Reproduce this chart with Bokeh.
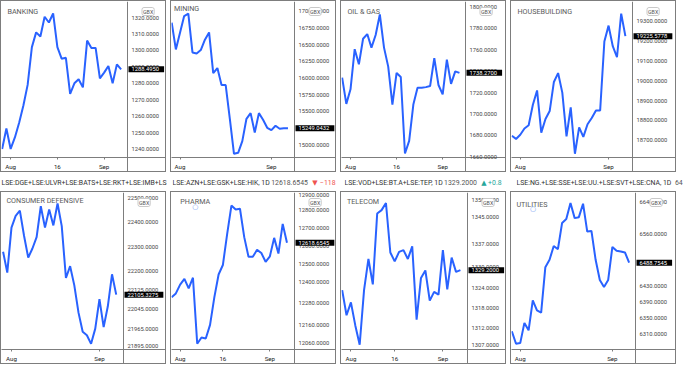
from bokeh.plotting import figure
from bokeh.layouts import column, row
from bokeh.models import Label, Span, FixedTicker, PrintfTickFormatter
from bokeh.embed import file_html
from bokeh.resources import INLINE

# ---------------- data ----------------
banking = [1240.0, 1252.5, 1240.0, 1247.0, 1256.0, 1266.5, 1279.0, 1302.0, 1311.0, 1308.5,
           1320.5, 1317.0, 1322.5, 1302.0, 1295.0, 1295.5, 1273.5, 1280.0, 1282.5, 1277.5,
           1306.0, 1301.5, 1301.5, 1283.0, 1286.5, 1290.5, 1280.0, 1291.5, 1288.4950]
mining = [16830, 16430, 16680, 16930, 16965, 16385, 16370, 16420, 16575, 16685,
          16075, 16150, 15895, 15895, 15390, 14865, 14880, 15055, 15390, 15475,
          15185, 15475, 15375, 15255, 15220, 15285, 15240, 15250, 15249.0432]
oil_gas = [1733.8, 1709.4, 1723.0, 1760.3, 1746.2, 1770.0, 1774.4, 1761.8, 1773.5, 1792.6,
           1761.8, 1744.1, 1708.8, 1738.2, 1734.4, 1663.2, 1675.0, 1708.8, 1724.4, 1724.4,
           1725.0, 1726.0, 1752.0, 1727.0, 1718.2, 1750.6, 1728.0, 1739.7, 1738.2700]
housebuilding = [18722, 18706, 18727, 18759, 18775, 18879, 18951, 18738, 18807, 18847,
                 18994, 19039, 18940, 18719, 18866, 18631, 18764, 18716, 18780, 18812,
                 18850, 18850, 19199, 19279, 19175, 19119, 19340, 19225.5778]
consumer_defensive = [22280, 22195, 22378, 22426, 22447, 22345, 22256, 22293, 22339, 22465,
                      22378, 22452, 22387, 22476, 22384, 22173, 22221, 22143, 22032, 21954,
                      21940, 21905, 21967, 22087, 21973, 22058, 22188, 22105.3275]
pharma = [12313, 12335, 12384, 12416, 12363, 12423, 12053, 12088, 12083, 12159,
          12313, 12441, 12494, 12667, 12827, 12805, 12809, 12650, 12540, 12540,
          12579, 12561, 12512, 12543, 12646, 12558, 12724, 12618.6545]
telecom = [1323.3, 1315.9, 1319.7, 1312.9, 1307.2, 1323.3, 1332.5, 1325.0, 1345.9, 1346.9,
           1349.0, 1334.4, 1331.8, 1334.6, 1335.1, 1332.5, 1336.2, 1314.6, 1326.9, 1329.1,
           1320.2, 1322.8, 1322.0, 1335.1, 1323.5, 1332.9, 1328.7, 1329.2000]
utilities = [6317.6, 6286.4, 6288.0, 6338.4, 6320.0, 6394.4, 6369.6, 6364.0, 6477.6, 6496.0,
             6530.4, 6522.4, 6588.0, 6597.6, 6637.6, 6600.0, 6602.4, 6636.0, 6566.4, 6568.0,
             6496.0, 6445.6, 6428.0, 6445.6, 6528.0, 6518.4, 6516.8, 6514.4, 6488.7545]

banking_yticks = [1240, 1250, 1260, 1270, 1280, 1290, 1300, 1310, 1320]
mining_yticks = [15000, 15250, 15500, 15750, 16000, 16250, 16500, 16750, 17000]
oil_gas_yticks = [1660, 1680, 1700, 1720, 1740, 1760, 1780, 1800]
housebuilding_yticks = [18700, 18800, 18900, 19000, 19100, 19200, 19300]
consumer_defensive_yticks = [21895, 21965, 22045, 22125, 22200, 22300, 22400, 22500]
pharma_yticks = [12060, 12160, 12280, 12400, 12500, 12600, 12700, 12800, 12900]
telecom_yticks = [1307, 1312, 1318, 1324, 1330, 1337, 1345, 1350]
utilities_yticks = [6310, 6350, 6390, 6430, 6490, 6560, 6640]

banking_xticks, banking_xlabels = [2, 13, 24], ["Aug", "16", "Sep"]
mining_xticks, mining_xlabels = [2, 24], ["Aug", "Sep"]
oil_gas_xticks, oil_gas_xlabels = [2, 13, 24], ["Aug", "16", "Sep"]
housebuilding_xticks, housebuilding_xlabels = [2, 23], ["Aug", "Sep"]
consumer_defensive_xticks, consumer_defensive_xlabels = [2, 23], ["Aug", "Sep"]
pharma_xticks, pharma_xlabels = [2, 12, 23], ["Aug", "16", "Sep"]
telecom_xticks, telecom_xlabels = [2, 12, 23], ["Aug", "16", "Sep"]
utilities_xticks, utilities_xlabels = [2, 24], ["Aug", "Sep"]

currency = "GBX"
hdr_consumer = "LSE:DGE+LSE:ULVR+LSE:BATS+LSE:RKT+LSE:IMB+LS"
hdr_pharma = "LSE:AZN+LSE:GSK+LSE:HIK, 1D"
pharma_change = "\u2212118"
hdr_telecom = "LSE:VOD+LSE:BT.A+LSE:TEP, 1D"
telecom_change = "+0.8"
hdr_utilities = "LSE:NG.+LSE:SSE+LSE:UU.+LSE:SVT+LSE:CNA, 1D"
utilities_fragment = "64"

# ---------------- styles / layout ----------------
BORDER = "#7d7d7d"
LINE = "#2962ff"
FONT = "Roboto"
RED = "#ef5350"
GREEN = "#26a69a"
PW = 166          # canvas width of a panel (a 1px css border is added around it)
AH = 16           # time-axis height
H_TOP, H_HDR, H_BOT = 172, 19, 173


def panel(name, values, yticks, xticks, xlabels, xr, yr, aw, height, tdx, tdy, circle=None):
    fw = PW - aw                   # width of the plotting area
    fh = height - AH
    x_end = xr[0] + (xr[1] - xr[0]) * PW / fw   # frame also covers the price scale
    p = figure(width=PW, height=height, x_range=(xr[0], x_end), y_range=yr,
               y_axis_location="right", toolbar_location=None, output_backend="svg",
               title=None, min_border_left=0, min_border_top=0, min_border_right=0,
               min_border_bottom=AH, styles={"border": f"1px solid {BORDER}"})
    p.outline_line_color = None
    p.grid.visible = False
    p.border_fill_color = "white"
    p.background_fill_color = "white"
    p.line(list(range(len(values))), values, line_color=LINE, line_width=2)

    xa = p.xaxis[0]
    xa.ticker = FixedTicker(ticks=xticks, minor_ticks=[xr[1]])
    xa.major_label_overrides = {t: s for t, s in zip(xticks, xlabels)}
    xa.axis_line_color = BORDER
    xa.major_tick_line_color = BORDER
    xa.major_tick_out = 2
    xa.major_tick_in = 0
    xa.minor_tick_line_color = BORDER
    xa.minor_tick_out = AH
    xa.minor_tick_in = 0
    xa.major_label_text_font = FONT
    xa.major_label_text_font_size = "6.2px"
    xa.major_label_text_color = "#222222"
    xa.major_label_standoff = -11

    ya = p.yaxis[0]
    ya.ticker = FixedTicker(ticks=yticks)
    ya.formatter = PrintfTickFormatter(format="%.4f")
    ya.axis_line_color = None
    ya.major_tick_line_color = None
    ya.major_tick_out = 0
    ya.major_tick_in = 0
    ya.minor_tick_line_color = None
    ya.major_label_text_font = FONT
    ya.major_label_text_font_size = "5.8px"
    ya.major_label_text_color = "#444444"
    ya.major_label_standoff = -(aw - 4)

    # price-scale separator
    p.add_layout(Span(location=xr[1], dimension="height", line_color=BORDER, line_width=1))

    # last value tag
    last = values[-1]
    p.add_layout(Label(x=fw + 1, y=last, x_units="screen", y_units="data",
                       text=f"{last:.4f}", text_font=FONT, text_font_size="5.8px",
                       text_color="white", text_baseline="middle", text_align="left",
                       background_fill_color="black",
                       padding=dict(left=3, right=5, top=1, bottom=1)))
    # currency badge
    p.add_layout(Label(x=fw + 14.5, y=fh - 6, x_units="screen", y_units="screen",
                       text=currency, text_font=FONT, text_font_size="5.3px",
                       text_color="#555555", text_baseline="top", text_align="left",
                       background_fill_color="white", border_line_color="#c9c9c9",
                       border_radius=2, padding=1))
    # title
    p.add_layout(Label(x=tdx, y=fh - tdy, x_units="screen", y_units="screen",
                       text=name, text_font=FONT, text_font_size="7.2px",
                       text_color="#5a5a5a", text_baseline="middle", text_align="left"))
    if circle is not None:
        p.add_layout(Label(x=circle[0], y=fh - circle[1], x_units="screen", y_units="screen",
                           text="\u25cb", text_font="DejaVu Sans", text_font_size="7px",
                           text_color="#6f9cf2", text_baseline="middle", text_align="center"))
    return p


def header(parts):
    h = figure(width=PW + 2, height=H_HDR, x_range=(0, 1), y_range=(0, 1),
               toolbar_location=None, output_backend="svg", title=None,
               x_axis_type=None, y_axis_type=None, min_border=0)
    h.outline_line_color = None
    h.border_fill_color = "white"
    h.background_fill_color = "white"
    for text, dx, color, font in parts:
        h.add_layout(Label(x=dx, y=8.7, x_units="screen", y_units="screen", text=text,
                           text_font=font, text_font_size="6.9px", text_color=color,
                           text_baseline="middle", text_align="left"))
    return h


top = [
    panel("BANKING", banking, banking_yticks, banking_xticks, banking_xlabels,
          (-0.15, 29.5), (1234.8, 1329.8), 40, H_TOP, 5.9, 9.6),
    panel("MINING", mining, mining_yticks, mining_xticks, mining_xlabels,
          (-0.05, 29.57), (14810, 17148), 43, H_TOP, 2.4, 7.2),
    panel("OIL & GAS", oil_gas, oil_gas_yticks, oil_gas_xticks, oil_gas_xlabels,
          (-0.15, 29.45), (1659.5, 1804.7), 42, H_TOP, 5.9, 10.1),
    panel("HOUSEBUILDING", housebuilding, housebuilding_yticks, housebuilding_xticks,
          housebuilding_xlabels, (-0.08, 28.69), (18612, 19401), 45, H_TOP, 5.9, 10.1),
]
bottom = [
    panel("CONSUMER DEFENSIVE", consumer_defensive, consumer_defensive_yticks,
          consumer_defensive_xticks, consumer_defensive_xlabels,
          (-0.38, 28.74), (21882, 22521), 44, H_BOT, 4.9, 7.7),
    panel("PHARMA", pharma, pharma_yticks, pharma_xticks, pharma_xlabels,
          (-0.02, 28.76), (12021, 12900), 43, H_BOT, 8.8, 8.7, circle=(23.9, 14.2)),
    panel("TELECOM", telecom, telecom_yticks, telecom_xticks, telecom_xlabels,
          (-0.15, 28.62), (1305.8, 1352.1), 40, H_BOT, 5.4, 9.2),
    panel("UTILITIES", utilities, utilities_yticks, utilities_xticks, utilities_xlabels,
          (-0.08, 29.52), (6272, 6664), 42, H_BOT, 4.9, 11.6, circle=(21.5, 16.4)),
]
headers = [
    header([(hdr_consumer, 1, "#333333", FONT)]),
    header([(hdr_pharma, 0, "#333333", FONT), (f"{pharma[-1]:.4f}", 98.7, "#555555", FONT),
            ("\u25bc", 139.7, RED, "DejaVu Sans"), (pharma_change, 147.5, RED, FONT)]),
    header([(hdr_telecom, 0, "#333333", FONT), (f"{telecom[-1]:.4f}", 99.6, "#555555", FONT),
            ("\u25b2", 136.8, GREEN, "DejaVu Sans"), (telecom_change, 143.6, GREEN, FONT)]),
    header([(hdr_utilities, 0, "#333333", FONT), (utilities_fragment, 158.5, "#555555", FONT)]),
]

layout = column(row(*top, spacing=4), row(*headers, spacing=4), row(*bottom, spacing=4), spacing=0)
open("out.html", "w").write(file_html(layout, INLINE))
